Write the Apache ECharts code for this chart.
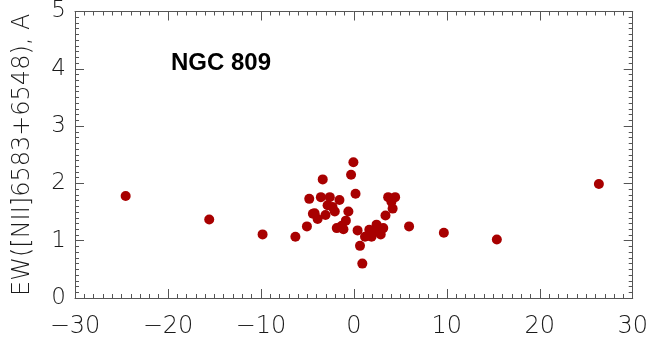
<!DOCTYPE html>
<html>
<head>
<meta charset="utf-8">
<script src="https://cdn.jsdelivr.net/npm/echarts@6/dist/echarts.min.js"></script>
<style>
  html, body { margin: 0; padding: 0; background: #fff; }
  #chart { width: 651px; height: 341px; }
</style>
</head>
<body>
<div id="chart"></div>
<script>
// Galaxy label and axis title
const galaxyName = 'NGC 809';
const yTitle = 'EW([NII]6583+6548), A';

// Axis ranges and tick steps
const xRange = [-30, 30];
const xStep = 10;
const yRange = [0, 5];
const yStep = 1;

// Radial offset along the slit (x) and [NII] equivalent width (y)
const offsets = [
  -24.55, -15.56, -9.82, -6.29, 9.68, 15.38, 26.36, 5.94,
  -0.05, -0.30, -3.35, 0.18, -4.80, -3.55, -2.59, -1.55,
  -2.83, -2.30, -2.05, -0.59, -4.41, -4.22, -3.90, -3.05,
  -0.86, -5.05, -1.84, -1.12, -1.30, 0.40, 0.66, 0.91,
  3.69, 4.44, 4.04, 4.17, 3.40, 2.44, 3.16, 1.66,
  2.25, 2.89, 1.90, 1.20
];
const widths = [
  1.78, 1.37, 1.11, 1.07, 1.14, 1.02, 1.99, 1.25,
  2.37, 2.15, 2.07, 1.82, 1.73, 1.76, 1.76, 1.71,
  1.62, 1.59, 1.51, 1.51, 1.47, 1.48, 1.38, 1.45,
  1.35, 1.25, 1.22, 1.20, 1.26, 1.18, 0.91, 0.60,
  1.76, 1.76, 1.68, 1.56, 1.44, 1.28, 1.22, 1.19,
  1.16, 1.11, 1.07, 1.07
];

const points = offsets.map((x, i) => [x, widths[i]]);

const axisColor = '#555';
const textColor = '#1a1a1a';
const labelFont = 'DejaVu Sans';

function frameAxis(base) {
  return Object.assign({
    axisLine: { show: true, onZero: false, lineStyle: { color: axisColor, width: 1 } },
    axisTick: { show: true, inside: true, length: 9, lineStyle: { color: axisColor } },
    minorTick: { show: true, splitNumber: 10, length: 4, lineStyle: { color: axisColor } },
    splitLine: { show: false },
    minorSplitLine: { show: false }
  }, base);
}

const chart = echarts.init(document.getElementById('chart'), null, { renderer: 'canvas' });

chart.setOption({
  animation: false,
  backgroundColor: '#fff',
  title: {
    text: galaxyName,
    left: 166,
    top: 46,
    textStyle: { fontFamily: 'Liberation Sans', fontWeight: 'bold', fontSize: 24, color: '#000' }
  },
  grid: { left: 75, right: 15, top: 8, bottom: 43 },
  xAxis: [
    frameAxis({
      type: 'value', position: 'bottom', min: xRange[0], max: xRange[1], interval: xStep,
      axisLabel: {
        margin: 17, fontFamily: labelFont, fontWeight: 200, fontSize: 24, color: textColor,
        formatter: v => (v < 0 ? '\u2212' + Math.abs(v) : String(v))
      }
    }),
    frameAxis({
      type: 'value', position: 'top', min: xRange[0], max: xRange[1], interval: xStep,
      axisLabel: { show: false }
    })
  ],
  yAxis: [
    frameAxis({
      type: 'value', position: 'left', min: yRange[0], max: yRange[1], interval: yStep,
      name: yTitle, nameLocation: 'middle', nameGap: 40, nameRotate: 90,
      nameTextStyle: { fontFamily: labelFont, fontWeight: 200, fontSize: 24, color: textColor },
      axisLabel: { margin: 9, fontFamily: labelFont, fontWeight: 200, fontSize: 23, color: textColor }
    }),
    frameAxis({
      type: 'value', position: 'right', min: yRange[0], max: yRange[1], interval: yStep,
      axisLabel: { show: false }
    })
  ],
  series: [{
    type: 'scatter',
    xAxisIndex: 0,
    yAxisIndex: 0,
    data: points,
    symbol: 'circle',
    symbolSize: 10,
    itemStyle: { color: '#a80000', opacity: 1 }
  }]
});
</script>
</body>
</html>
